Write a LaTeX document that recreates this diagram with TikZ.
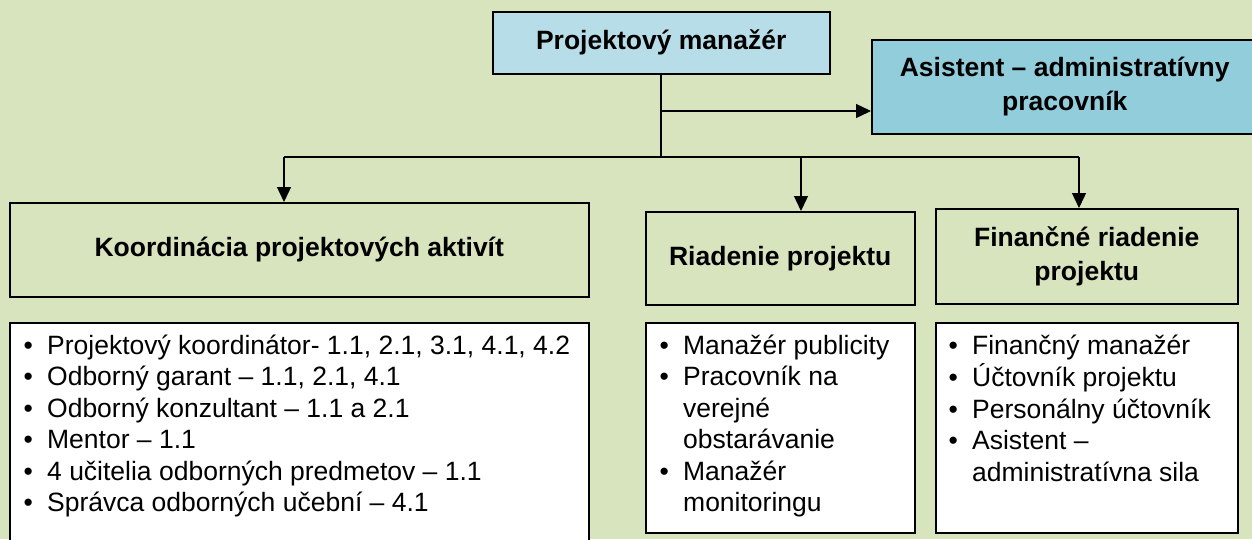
\documentclass[tikz,border=0pt]{standalone}
\usepackage{fontspec}
\setmainfont{Liberation Sans}
\usetikzlibrary{arrows.meta}
\definecolor{bgolive}{HTML}{D7E4BD}
\definecolor{pmblue}{HTML}{B7DEE8}
\definecolor{asblue}{HTML}{92CDDC}
\tikzset{box/.style={draw, line width=1.5pt, inner sep=0pt, anchor=north west, align=center,
		font=\fontsize{26.5}{34}\selectfont\bfseries},
	listbox/.style={draw, fill=white, line width=1.5pt, inner sep=0pt, anchor=north west},
	items/.style={anchor=north west, inner sep=0pt, font=\fontsize{26.5}{31.5}\selectfont},
	conn/.style={line width=1.3pt},
	arrowline/.style={conn, -{Triangle[length=15pt,width=14pt]}}}
\newcommand{\bul}{\textbullet}

\begin{document}
\begin{tikzpicture}[x=1pt, y=-1pt]
			% background
			\useasboundingbox (0,0) rectangle (1252,539);
			\clip (0,0) rectangle (1252,539);
			\fill[bgolive] (0,0) rectangle (1252,539);
			
			% top boxes
			\node[box, fill=pmblue, minimum width=337pt, minimum height=62pt] (pm) at (492,11) {Projektový manažér};
			\node[box, fill=asblue, minimum width=386pt, minimum height=94pt] (asist) at (871,39) {Asistent – administratívny\\pracovník};
			
			% second row
			\node[box, minimum width=579pt, minimum height=94pt] (koord) at (9,202) {Koordinácia projektových aktivít};
			\node[box, minimum width=269pt, minimum height=93pt] (riad) at (645,211) {Riadenie projektu};
			\node[box, minimum width=302pt, minimum height=95pt] (fin) at (935,208) {Finančné riadenie\\projektu};
			
			% lists
			\node[listbox, minimum width=579pt, minimum height=230pt] (koordlist) at (9,322) {};
			\node[listbox, minimum width=269pt, minimum height=210pt] (riadlist) at (645,322) {};
			\node[listbox, minimum width=302pt, minimum height=210pt] (finlist) at (935,322) {};
			
			\node[items] (koorditems) at (23.4,332) {\begin{tabular}{@{}l@{\hspace{14.3pt}}l@{}}
					\bul & Projektový koordinátor- 1.1, 2.1, 3.1, 4.1, 4.2\\
					\bul & Odborný garant – 1.1, 2.1, 4.1\\
					\bul & Odborný konzultant – 1.1 a 2.1\\
					\bul & Mentor – 1.1\\
					\bul & 4 učitelia odborných predmetov – 1.1\\
					\bul & Správca odborných učební – 4.1
				\end{tabular}};
			\node[items] (riaditems) at (659.4,332) {\begin{tabular}{@{}l@{\hspace{14.3pt}}l@{}}
					\bul & Manažér publicity\\
					\bul & Pracovník na\\
					& verejné\\
					& obstarávanie\\
					\bul & Manažér\\
					& monitoringu
				\end{tabular}};
			\node[items] (finitems) at (948.4,332) {\begin{tabular}{@{}l@{\hspace{14.3pt}}l@{}}
					\bul & Finančný manažér\\
					\bul & Účtovník projektu\\
					\bul & Personálny účtovník\\
					\bul & Asistent –\\
					& administratívna sila
				\end{tabular}};
			
			% connectors
			\coordinate (split) at (661,111);
			\coordinate (bus) at (661,157);
			\coordinate (b1) at (284,157);
			\coordinate (b2) at (801,157);
			\coordinate (b3) at (1079,157);
			
			\draw[conn] (pm.south -| bus) -- (bus);
			\draw[arrowline] (split) -- (split -| asist.west);
			\draw[conn] (b1) -- (b3);
			\draw[arrowline] (b1) -- (b1 |- koord.north);
			\draw[arrowline] (b2) -- (b2 |- riad.north);
			\draw[arrowline] (b3) -- (b3 |- fin.north);
		\end{tikzpicture}
\end{document}
